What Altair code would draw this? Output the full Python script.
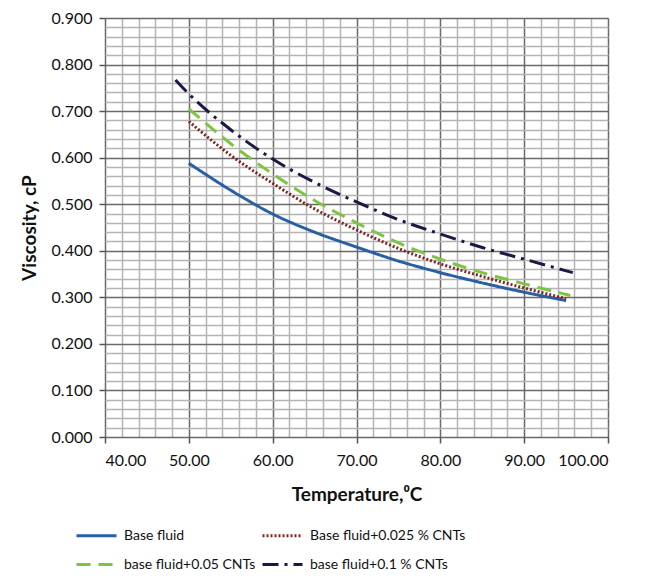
import altair as alt
import pandas as pd

# ---- data ----
series_names = [
    "Base fluid",
    "Base fluid+0.025 % CNTs",
    "base fluid+0.05 CNTs",
    "base fluid+0.1 % CNTs",
]

temp_base = [50, 55, 60, 65, 70, 75, 80, 85, 90, 95]
visc_base = [0.588, 0.530, 0.479, 0.440, 0.408, 0.378, 0.353, 0.331, 0.311, 0.293]

temp_025 = [50, 55, 60, 65, 70, 75, 80, 85, 90, 95]
visc_025 = [0.678, 0.605, 0.545, 0.490, 0.445, 0.405, 0.372, 0.345, 0.320, 0.297]

temp_05 = [50, 55, 60, 65, 70, 75, 80, 85, 90, 95.5]
visc_05 = [0.705, 0.630, 0.565, 0.508, 0.460, 0.417, 0.382, 0.353, 0.329, 0.304]

temp_1 = [48.4, 50, 55, 60, 65, 70, 75, 80, 85, 90, 95.8]
visc_1 = [0.767, 0.737, 0.660, 0.597, 0.547, 0.505, 0.467, 0.436, 0.407, 0.382, 0.353]

colors = ["#2b5fa3", "#7a2a22", "#7dc440", "#1d1845"]
dashes = [[1, 0], [2, 2], [14, 8], [16, 6, 3, 6]]

x_ticks = list(range(40, 101, 2))
y_ticks = [round(i * 0.02, 2) for i in range(0, 46)]

rows = []
for name, ts, vs in zip(series_names,
                        [temp_base, temp_025, temp_05, temp_1],
                        [visc_base, visc_025, visc_05, visc_1]):
    for t, v in zip(ts, vs):
        rows.append({"series": name, "temp": t, "visc": v})
df = pd.DataFrame(rows)

FONT = "Lato"
Y_MAJOR = "abs(datum.value*10 - round(datum.value*10)) < 1e-6"

legend = alt.Legend(
    title=None,
    orient="none",
    direction="horizontal",
    legendX=-30,
    legendY=506,
    columns=2,
    columnPadding=0,
    rowPadding=10,
    symbolType="M-1,0L3,0",
    symbolSize=400,
    symbolStrokeWidth=3,
    labelFont=FONT,
    labelFontSize=14,
    labelColor="#111",
    labelOffset=26,
    labelLimit=300,
)

chart = (
    alt.Chart(df)
    .mark_line(strokeWidth=3, interpolate="monotone")
    .encode(
        x=alt.X(
            "temp:Q",
            scale=alt.Scale(domain=[40, 100], nice=False, zero=False),
            axis=alt.Axis(
                title="Temperature,⁰C",
                values=x_ticks,
                labelExpr="datum.value % 10 === 0 ? format(datum.value, '.2f') : ''",
                gridColor={"condition": {"test": "datum.value % 10 === 0", "value": "#6a6a6a"}, "value": "#b4b4b4"},
                tickColor={"condition": {"test": "datum.value % 10 === 0", "value": "#555"}, "value": "transparent"},
                gridWidth=1.5,
                tickSize=6,
                tickWidth=1.5,
                domain=False,
                labelFont=FONT,
                labelFontSize=16,
                labelColor="#111",
                labelPadding=9,
                titleFont=FONT,
                titleFontSize=19,
                titleFontWeight="bold",
                titleColor="#111",
                titlePadding=17,
                labelOverlap=False,
            ),
        ),
        y=alt.Y(
            "visc:Q",
            scale=alt.Scale(domain=[0, 0.9], nice=False, zero=False),
            axis=alt.Axis(
                title="Viscosity, cP",
                values=y_ticks,
                labelExpr=Y_MAJOR + " ? format(datum.value, '.3f') : ''",
                gridColor={"condition": {"test": Y_MAJOR, "value": "#6a6a6a"}, "value": "#b4b4b4"},
                tickColor={"condition": {"test": Y_MAJOR, "value": "#555"}, "value": "transparent"},
                gridWidth=1.5,
                tickSize=6,
                tickWidth=1.5,
                domain=False,
                labelFont=FONT,
                labelFontSize=16,
                labelColor="#111",
                labelPadding=7,
                titleFont=FONT,
                titleFontSize=19,
                titleFontWeight="bold",
                titleColor="#111",
                titlePadding=12,
                labelOverlap=False,
            ),
        ),
        color=alt.Color(
            "series:N",
            scale=alt.Scale(domain=series_names, range=colors),
            legend=legend,
        ),
        strokeDash=alt.StrokeDash(
            "series:N",
            scale=alt.Scale(domain=series_names, range=dashes),
            legend=legend,
        ),
    )
    .properties(
        width=503,
        height=419,
        autosize=alt.AutoSizeParams(type="none"),
        padding={"left": 97, "top": 10, "right": 30, "bottom": 140},
    )
    .configure_view(stroke=None)
    .configure(background="white")
)

chart.save("out.html", embed_options={"renderer": "svg", "actions": False})
